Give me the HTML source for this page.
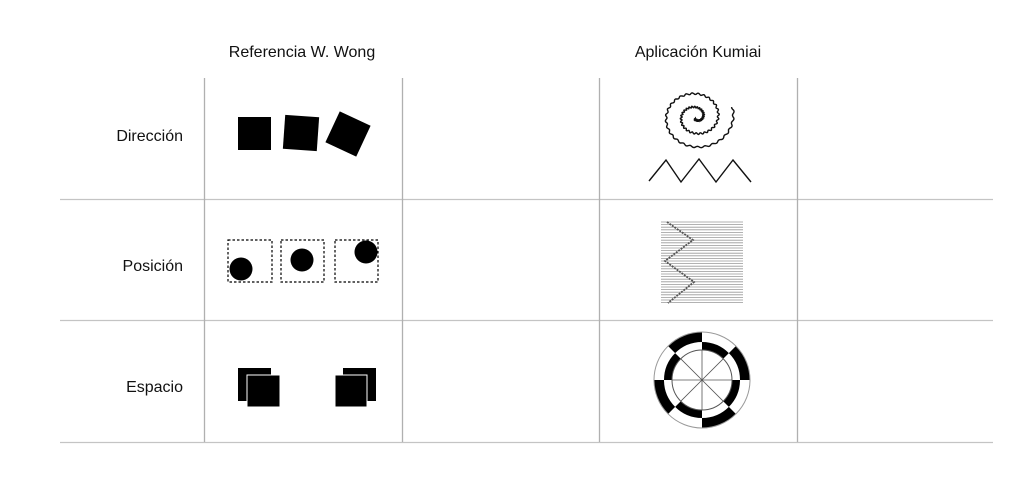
<!DOCTYPE html>
<html><head><meta charset="utf-8"><style>
body{margin:0;background:#fff;width:1027px;height:481px;overflow:hidden}
text{font-family:"Liberation Sans",sans-serif;font-size:16px;fill:#111}
</style></head><body>
<svg width="1027" height="481" viewBox="0 0 1027 481" xmlns="http://www.w3.org/2000/svg">
<g stroke="#c4c4c4" stroke-width="1.3">
<line x1="60" y1="199.5" x2="993" y2="199.5"/>
<line x1="60" y1="320.5" x2="993" y2="320.5"/>
<line x1="60" y1="442.5" x2="993" y2="442.5"/>
</g>
<g stroke="#b0b0b0" stroke-width="1.3">
<line x1="204.5" y1="78" x2="204.5" y2="442"/>
<line x1="402.5" y1="78" x2="402.5" y2="442"/>
<line x1="599.5" y1="78" x2="599.5" y2="442"/>
<line x1="797.5" y1="78" x2="797.5" y2="442"/>
</g>
<text x="302" y="57" text-anchor="middle">Referencia W. Wong</text>
<text x="698" y="57" text-anchor="middle">Aplicación Kumiai</text>
<text x="183" y="141" text-anchor="end">Dirección</text>
<text x="183" y="271" text-anchor="end">Posición</text>
<text x="183" y="392" text-anchor="end">Espacio</text>
<rect x="238" y="117" width="33" height="33"/>
<rect x="284" y="116" width="34" height="34" transform="rotate(4 301 133)"/>
<rect x="331" y="117" width="34" height="34" transform="rotate(25 348 134)"/>
<g fill="none" stroke="#000" stroke-width="1.2" stroke-dasharray="2.5 2">
<rect x="228" y="240" width="44" height="42"/>
<rect x="281" y="240" width="43" height="42"/>
<rect x="335" y="240" width="43" height="42"/>
</g>
<circle cx="241" cy="269" r="11.5"/>
<circle cx="302" cy="260" r="11.5"/>
<circle cx="366" cy="252" r="11.5"/>
<rect x="238" y="368" width="33" height="33"/>
<rect x="247" y="375" width="33" height="32" stroke="#fff" stroke-width="1"/>
<rect x="343" y="368" width="33" height="33"/>
<rect x="335" y="375" width="32" height="32" stroke="#fff" stroke-width="1"/>
<path id="spiral" fill="none" stroke="#111" stroke-width="1.4" d=""/>
<polyline fill="none" stroke="#111" stroke-width="1.4" points="649,181 666,160 681,182 699,159 716,182 733,160 751,182"/>
<g id="stripes" stroke="#999" stroke-width="0.8"></g>
<polyline fill="none" stroke="#555" stroke-width="1.8" stroke-dasharray="2 1" points="667,222 693,240 665,261 694,282 668,303"/>
<g id="wheel"></g>
</svg>
<script>
(function(){
var cx=696,cy=117,d="",turns=2.4,rmax=40,phiEnd=-0.3;
for(var i=0;i<=700;i++){var s=i/700;var phi=phiEnd+(1-s)*turns*2*Math.PI;
var r=2+(rmax-2)*s+0.9*Math.sin(i*0.6);
var x=cx+r*Math.cos(phi)*0.95,y=cy+r*Math.sin(phi)*0.85;
d+=(i?"L":"M")+x.toFixed(1)+","+y.toFixed(1);}
document.getElementById("spiral").setAttribute("d",d);
var s=document.getElementById("stripes"),h="";
for(var y=222;y<=303;y+=2.6){h+='<line x1="661" x2="743" y1="'+y.toFixed(1)+'" y2="'+y.toFixed(1)+'"/>';}
s.innerHTML=h;
var w=document.getElementById("wheel"),c=[702,380],g="";
function arc(r1,r2,a1,a2){var p=function(r,a){return (c[0]+r*Math.cos(a)).toFixed(2)+","+(c[1]+r*Math.sin(a)).toFixed(2)};
return '<path d="M'+p(r2,a1)+' A'+r2+','+r2+' 0 0 1 '+p(r2,a2)+' L'+p(r1,a2)+' A'+r1+','+r1+' 0 0 0 '+p(r1,a1)+'Z" fill="#000"/>';}
for(var k=0;k<8;k++){var a1=-Math.PI/2+k*Math.PI/4,a2=a1+Math.PI/4;
if(k%2==1)g+=arc(38,48,a1,a2);else g+=arc(30,38,a1,a2);}
g+='<circle cx="702" cy="380" r="48" fill="none" stroke="#999" stroke-width="1"/>';
g+='<circle cx="702" cy="380" r="30" fill="none" stroke="#555" stroke-width="1"/>';
for(var k=0;k<4;k++){var a=k*Math.PI/4;g+='<line stroke="#555" stroke-width="0.8" x1="'+(702-30*Math.cos(a))+'" y1="'+(380-30*Math.sin(a))+'" x2="'+(702+30*Math.cos(a))+'" y2="'+(380+30*Math.sin(a))+'"/>';}
w.innerHTML=g;
})();
</script>
</body></html>
